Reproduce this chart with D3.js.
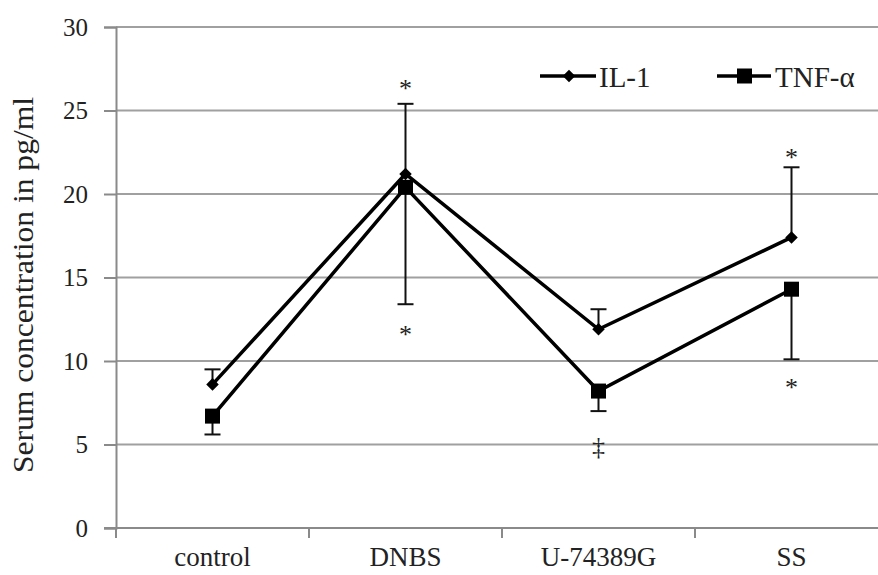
<!DOCTYPE html>
<html>
<head>
<meta charset="utf-8">
<script src="https://cdn.jsdelivr.net/npm/d3@7"></script>
<style>
  body { margin: 0; background: #fff; }
  svg text { font-family: "Liberation Serif", "Times New Roman", serif; fill: #222; }
</style>
</head>
<body>
<script>
var categories = ["control", "DNBS", "U-74389G", "SS"];
var il1 = [8.6, 21.2, 11.9, 17.4];
var tnf = [6.7, 20.4, 8.2, 14.3];
var il1Upper = [9.5, 25.4, 13.1, 21.6]; //error bar tops (IL-1)
var tnfLower = [5.6, 13.4, 7.0, 10.1]; //error bar bottoms (TNF-a)
var yTicks = [0, 5, 10, 15, 20, 25, 30];
//significance marks: [category, value, symbol]
var marks = [
  ["DNBS", 26.4, "*"], ["DNBS", 11.7, "*"],
  ["U-74389G", 5.0, "\u2021"],
  ["SS", 22.3, "*"], ["SS", 8.5, "*"]
];

var width = 878, height = 575;
var plotLeft = 116, plotTop = 27, plotBottom = 528;

var svg = d3.select("body").append("svg").attr("width", width).attr("height", height);

var x = d3.scaleBand().domain(categories).range([plotLeft, plotLeft + 4 * 193]);
var y = d3.scaleLinear().domain([0, 30]).range([plotBottom, plotTop]);
var cx = function(c) { return x(c) + x.bandwidth() / 2; };

//gridlines
svg.append("g").selectAll("line").data(yTicks).enter().append("line")
  .attr("x1", plotLeft).attr("x2", width)
  .attr("y1", function(d) { return y(d); }).attr("y2", function(d) { return y(d); })
  .attr("stroke", "#a0a0a0").attr("stroke-width", 2);

//y axis
var yAxis = svg.append("g").attr("transform", "translate(" + plotLeft + ",0)")
  .call(d3.axisLeft(y).tickValues(yTicks).tickSize(12).tickPadding(16));
yAxis.select(".domain").attr("stroke", "#8a8a8a").attr("stroke-width", 2);
yAxis.selectAll(".tick line").attr("stroke", "#8a8a8a").attr("stroke-width", 2);
yAxis.selectAll(".tick text").style("font-size", "25px").attr("fill", "#222");

//x axis
var xg = svg.append("g");
xg.append("line").attr("x1", plotLeft - 12).attr("x2", width).attr("y1", plotBottom).attr("y2", plotBottom)
  .attr("stroke", "#8a8a8a").attr("stroke-width", 2);
xg.selectAll(".xt").data(categories).enter().append("line").attr("class", "xt")
  .attr("x1", function(d) { return x(d); }).attr("x2", function(d) { return x(d); })
  .attr("y1", plotBottom).attr("y2", plotBottom + 10)
  .attr("stroke", "#8a8a8a").attr("stroke-width", 2);
xg.selectAll("text").data(categories).enter().append("text")
  .attr("x", cx).attr("y", 566).attr("text-anchor", "middle")
  .style("font-size", "27px").text(function(d) { return d; });

//y label
svg.append("text").attr("transform", "translate(33,285) rotate(-90)")
  .attr("text-anchor", "middle").style("font-size", "29px")
  .attr("textLength", 376).attr("lengthAdjust", "spacingAndGlyphs")
  .text("Serum concentration in pg/ml");

//error bars
function errBars(vals, ends) {
  var g = svg.append("g").attr("stroke", "#111").attr("stroke-width", 2);
  categories.forEach(function(c, i) {
    g.append("line").attr("x1", cx(c)).attr("x2", cx(c))
      .attr("y1", y(vals[i])).attr("y2", y(ends[i]));
    g.append("line").attr("x1", cx(c) - 8).attr("x2", cx(c) + 8)
      .attr("y1", y(ends[i])).attr("y2", y(ends[i]));
  });
}
errBars(il1, il1Upper);
errBars(tnf, tnfLower);

//lines
var line = d3.line().x(function(d, i) { return cx(categories[i]); }).y(function(d) { return y(d); });
[il1, tnf].forEach(function(s) {
  svg.append("path").datum(s).attr("d", line)
    .attr("fill", "none").attr("stroke", "#000").attr("stroke-width", 3.5);
});

//markers
svg.append("g").selectAll("path").data(il1).enter().append("path")
  .attr("d", d3.symbol().type(d3.symbolDiamond2).size(100))
  .attr("transform", function(d, i) { return "translate(" + cx(categories[i]) + "," + y(d) + ")"; })
  .attr("fill", "#000");
svg.append("g").selectAll("rect").data(tnf).enter().append("rect")
  .attr("x", function(d, i) { return cx(categories[i]) - 7.5; })
  .attr("y", function(d) { return y(d) - 7.5; })
  .attr("width", 15).attr("height", 15).attr("fill", "#000");

//significance symbols
svg.append("g").selectAll("text").data(marks).enter().append("text")
  .attr("x", function(d) { return cx(d[0]); })
  .attr("y", function(d) { return y(d[1]) + 10; })
  .attr("text-anchor", "middle").style("font-size", "26px")
  .text(function(d) { return d[2]; });

//legend
var leg = svg.append("g");
leg.append("line").attr("x1", 540).attr("x2", 596).attr("y1", 76).attr("y2", 76)
  .attr("stroke", "#000").attr("stroke-width", 3.5);
leg.append("path").attr("d", d3.symbol().type(d3.symbolDiamond2).size(100))
  .attr("transform", "translate(569,76)").attr("fill", "#000");
leg.append("text").attr("x", 599).attr("y", 87).style("font-size", "29px").text("IL-1");
leg.append("line").attr("x1", 717).attr("x2", 771).attr("y1", 76).attr("y2", 76)
  .attr("stroke", "#000").attr("stroke-width", 3.5);
leg.append("rect").attr("x", 737).attr("y", 68.5).attr("width", 15).attr("height", 15).attr("fill", "#000");
leg.append("text").attr("x", 775).attr("y", 87).style("font-size", "29px").text("TNF-\u03b1");
</script>
</body>
</html>
